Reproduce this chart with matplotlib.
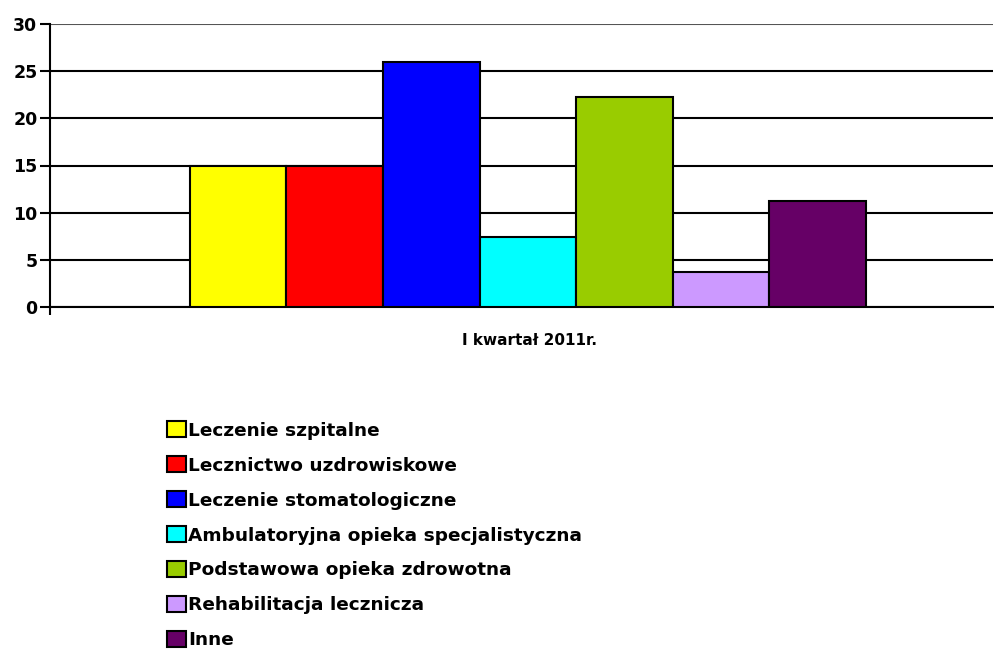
import matplotlib.pyplot as plt
from matplotlib.patches import Patch

plt.rcParams['font.family'] = ['DejaVu Sans']

categories = ["Leczenie szpitalne", "Lecznictwo uzdrowiskowe", "Leczenie stomatologiczne",
              "Ambulatoryjna opieka specjalistyczna", "Podstawowa opieka zdrowotna",
              "Rehabilitacja lecznicza", "Inne"]
values = [14.95, 14.95, 26.0, 7.45, 22.25, 3.7, 11.25]
colors = ["#ffff00", "#ff0000", "#0000ff", "#00ffff", "#99cc00", "#cc99ff", "#660066"]
group_label = "I kwartał 2011r."

fig = plt.figure(figsize=(9.94, 6.52), dpi=100)
ax = fig.add_axes([50 / 994, 1 - 307 / 652, 943 / 994, 283 / 652])

n = len(values)
xs = [i - (n - 1) / 2 for i in range(n)]
ax.bar(xs, values, width=1.0, color=colors, edgecolor='black', linewidth=1.5, zorder=3)

ax.set_ylim(0, 30)
ax.set_xlim(-4.95, 4.82)
ax.set_yticks(range(0, 31, 5))
ax.yaxis.grid(True, color='black', linewidth=1.5, zorder=0)
ax.set_axisbelow(True)
for s in ['top', 'right']:
    ax.spines[s].set_visible(False)
ax.spines['left'].set_linewidth(1.5)
ax.spines['bottom'].set_linewidth(1.5)
ax.tick_params(axis='y', direction='out', length=7, width=1.5, labelsize=12.5, pad=2)
for lab in ax.get_yticklabels():
    lab.set_fontweight('bold')
ax.get_ygridlines()[-1].set_color('#555555')
ax.set_xticks([-4.95])
ax.set_xticklabels([''])
ax.tick_params(axis='x', direction='out', length=6, width=1.5)
ax.set_xlabel(group_label, fontsize=11, fontweight='bold')
ax.xaxis.set_label_coords((530 - 50) / 943, -26 / 283)

handles = [Patch(facecolor=c, edgecolor='black', linewidth=1.5) for c in colors]
leg = fig.legend(handles, categories, loc='upper left', bbox_to_anchor=(160 / 994, 1 - 414 / 652),
                 frameon=False, handlelength=1.0, handleheight=0.95, handletextpad=0.12,
                 labelspacing=0.9, borderaxespad=0, prop={'size': 13.3, 'weight': 'bold'})

fig.savefig('out.png', dpi=100)
